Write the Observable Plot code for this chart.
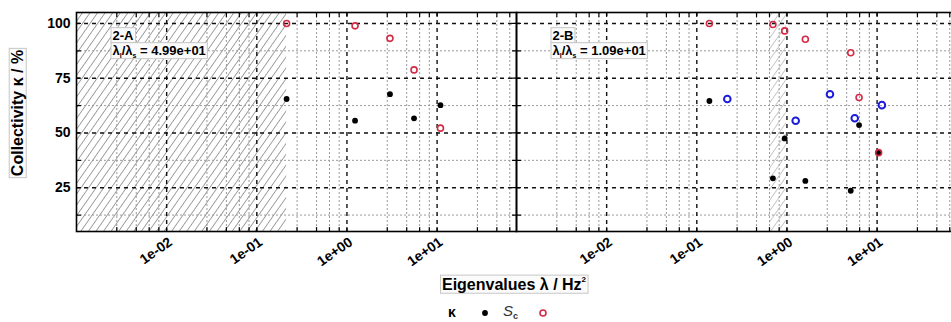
<!DOCTYPE html>
<html>
<head>
<meta charset="utf-8">
<script src="https://cdn.jsdelivr.net/npm/d3@7"></script>
<script src="https://cdn.jsdelivr.net/npm/@observablehq/plot@0.6"></script>
<style>
  html, body { margin: 0; padding: 0; overflow: hidden; background: white; }
  #wrap { position: relative; width: 951px; height: 322px; overflow: hidden; }
  #chart { width: 957px; height: 300px; }
  #chart svg { max-width: none !important; display: block; }
  #legend { position: absolute; top: 302px; left: 0; width: 951px; height: 22px;
    font-family: "Liberation Sans", Arial, sans-serif; }
  #legend span, #legend svg { position: absolute; }
</style>
</head>
<body>
<div id="wrap">
  <div id="chart"></div>
  <div id="legend"></div>
</div>
<script>
// ---- data ----
const panels = ["A", "B"];
const panelTags = ["2-A", "2-B"];
const ratioLabels = ["4.99e+01", "1.09e+01"];

// panel 2-A
const lambdaA = [0.214, 1.23, 3.0, 5.55, 10.9];
const kappaA  = [65.5, 55.6, 67.7, 56.7, 62.7];
const scA     = [100, 98.9, 93.2, 78.8, 52.2];

// panel 2-B
const lambdaB = [0.138, 0.699, 0.943, 1.6, 5.1, 6.31, 10.4];
const kappaB  = [64.6, 29.3, 47.5, 28.1, 23.6, 53.6, 41.0];
const scB     = [100, 99.5, 96.6, 92.8, 86.6, 66.2, 41.0];

// reference collectivity shown in blue on panel 2-B
const lambdaRef = [0.218, 1.25, 3.0, 5.65, 11.3];
const kappaRef  = [65.5, 55.6, 67.7, 56.7, 62.7];

// hatched (excluded) eigenvalue ranges
const hatchPanel = ["A", "B"];
const hatchFrom  = [0.001, 0.645];
const hatchTo    = [0.214, 0.985];

// ticks / grid
const yMajor = [25, 50, 75, 100];
const yMinor = [12.5, 37.5, 62.5, 87.5];
const xDecades = [0.01, 0.1, 1, 10];
const xTickLabels = ["1e-02", "1e-01", "1e+00", "1e+01"];
const xMinor = [0.0028, 0.0046, 0.0064, 0.0082,
                0.028, 0.046, 0.064, 0.082,
                0.28, 0.46, 0.64, 0.82,
                2.8, 4.6, 6.4, 8.2,
                28, 46, 64];

// ---- build tables ----
const rowsA = lambdaA.map((l, i) => ({panel: "A", lambda: l, kappa: kappaA[i], sc: scA[i]}));
const rowsB = lambdaB.map((l, i) => ({panel: "B", lambda: l, kappa: kappaB[i], sc: scB[i]}));
const rows = rowsA.concat(rowsB);
const refRows = lambdaRef.map((l, i) => ({panel: "B", lambda: l, kappa: kappaRef[i]}));
const hatchRows = hatchPanel.map((p, i) => ({panel: p, x1: hatchFrom[i], x2: hatchTo[i]}));
const tagRows = panels.map((p, i) => ({panel: p, text: panelTags[i]}));
const ratioRows = panels.map((p, i) => ({panel: p, text: "λl/λs = " + ratioLabels[i]}));

const tickShape = { draw(context, l) { context.moveTo(0, 0); context.lineTo(0, -l); } };

const W = 957, H = 300, plotBottom = 231;
const chart = Plot.plot({
  width: W, height: H,
  marginLeft: 76, marginRight: 1, marginTop: 12, marginBottom: H - plotBottom,
  style: {fontFamily: "'Liberation Sans', Arial, sans-serif", fontWeight: "bold", color: "black", background: "white", overflow: "visible", maxWidth: "none"},
  fx: {domain: panels, padding: 0, axis: null, label: null},
  x: {type: "log", domain: [0.001, 76], label: null},
  y: {domain: [5, 105], label: null},
  marks: [
    Plot.rect(hatchRows.filter(d => d.panel === "A"), {fx: "panel", x1: "x1", x2: "x2", fill: "url(#hatchA)"}),
    Plot.rect(hatchRows.filter(d => d.panel === "B"), {fx: "panel", x1: "x1", x2: "x2", fill: "url(#hatchB)"}),
    Plot.ruleY(yMinor, {stroke: "#9a9a9a", strokeDasharray: "2,2", strokeWidth: 1}),
    Plot.ruleX(xMinor, {stroke: "#9a9a9a", strokeDasharray: "2,2", strokeWidth: 1}),
    Plot.ruleY(yMajor, {stroke: "#111", strokeDasharray: "4,4", strokeWidth: 1.4}),
    Plot.ruleX(xDecades, {stroke: "#111", strokeDasharray: "4,4", strokeWidth: 1.4}),
    Plot.vector(xMinor.concat(xDecades), {x: d => d, frameAnchor: "bottom", rotate: 0, length: 4, anchor: "start", shape: tickShape, stroke: "black", strokeWidth: 1.2}),
    Plot.vector(xMinor.concat(xDecades), {x: d => d, frameAnchor: "top", rotate: 180, length: 4, anchor: "start", shape: tickShape, stroke: "black", strokeWidth: 1.2}),
    Plot.vector(yMinor.concat(yMajor), {y: d => d, frameAnchor: "left", rotate: 90, length: 4, anchor: "start", shape: tickShape, stroke: "black", strokeWidth: 1.2}),
    Plot.vector(yMinor.concat(yMajor), {y: d => d, frameAnchor: "right", rotate: -90, length: 4, anchor: "start", shape: tickShape, stroke: "black", strokeWidth: 1.2}),
    Plot.frame({stroke: "black", strokeWidth: 1.6}),
    Plot.axisX(xDecades, {anchor: "bottom", tickSize: 0, tickPadding: 9, tickRotate: -35, fontSize: 14, dx: 4,
      tickFormat: d => xTickLabels[xDecades.indexOf(d)]}),
    Plot.axisY(yMajor, {anchor: "left", tickSize: 0, tickPadding: 6, fontSize: 14}),
    Plot.dot(rows, {fx: "panel", x: "lambda", y: "kappa", r: 2.9, fill: "black"}),
    Plot.dot(refRows, {fx: "panel", x: "lambda", y: "kappa", r: 3.3, stroke: "#1c1cdc", strokeWidth: 2, fill: "none"}),
    Plot.dot(rows, {fx: "panel", x: "lambda", y: "sc", r: 3, stroke: "#d42a44", strokeWidth: 1.6, fill: "none"}),
    Plot.text(tagRows, {fx: "panel", text: "text", frameAnchor: "top-left", dx: 36, dy: 23, textAnchor: "start", lineAnchor: "middle", fontSize: 13}),
    Plot.text(ratioRows, {fx: "panel", text: "text", frameAnchor: "top-left", dx: 36, dy: 38, textAnchor: "start", lineAnchor: "middle", fontSize: 13})
  ]
});

document.getElementById("chart").append(chart);
const svg = d3.select(chart);

// hatch patterns
const defs = svg.insert("defs", ":first-child");
[["hatchA", "#333333"], ["hatchB", "#8a8a8a"]].forEach(([id, col]) => {
  const p = defs.append("pattern").attr("id", id).attr("patternUnits", "userSpaceOnUse")
    .attr("width", 6.2).attr("height", 6.2).attr("patternTransform", "rotate(35)");
  p.append("line").attr("x1", 0).attr("y1", 0).attr("x2", 0).attr("y2", 6.2)
    .attr("stroke", col).attr("stroke-width", 0.9);
});

function boxIt(node) {
  const b = node.getBBox();
  const r = document.createElementNS("http://www.w3.org/2000/svg", "rect");
  r.setAttribute("x", b.x - 1.5);
  r.setAttribute("y", b.y);
  r.setAttribute("width", b.width + 3);
  r.setAttribute("height", b.height);
  r.setAttribute("fill", "#fbfbfb");
  r.setAttribute("stroke", "#c6c6c6");
  r.setAttribute("stroke-width", 1);
  if (node.getAttribute("transform")) r.setAttribute("transform", node.getAttribute("transform"));
  node.parentNode.insertBefore(r, node);
}

// subscripts + boxes for panel annotations
svg.selectAll("text").each(function () {
  const t = this.textContent;
  if (t.startsWith("λl/λs")) {
    const val = t.split("= ")[1];
    const sel = d3.select(this);
    sel.text(null);
    sel.append("tspan").text("λ");
    sel.append("tspan").attr("font-size", 7).attr("dy", 3).text("l");
    sel.append("tspan").attr("dy", -3).text("/λ");
    sel.append("tspan").attr("font-size", 7).attr("dy", 3).text("s");
    sel.append("tspan").attr("dy", -3).text(" = " + val);
    boxIt(this);
  } else if (t.startsWith("2-")) {
    boxIt(this);
  }
});

// axis titles
const xt = svg.append("text").attr("x", 514).attr("y", 286).attr("text-anchor", "middle")
  .attr("dominant-baseline", "middle").attr("font-size", 16).attr("font-weight", "bold");
xt.append("tspan").text("Eigenvalues λ / Hz");
xt.append("tspan").attr("font-size", 8).attr("dy", -6).text("2");
boxIt(xt.node());

const yt = svg.append("text").attr("transform", "translate(19,113) rotate(-90)").attr("text-anchor", "middle")
  .attr("dominant-baseline", "middle").attr("font-size", 16).attr("font-weight", "bold")
  .text("Collectivity κ / %");
boxIt(yt.node());

// legend
const legend = d3.select("#legend");
legend.append("span").style("left", "448px").style("top", "2px").style("font-weight", "bold").style("font-size", "14px").text("κ");
const l1 = legend.append("svg").attr("width", 10).attr("height", 10).style("left", "480px").style("top", "6px");
l1.append("circle").attr("cx", 5).attr("cy", 5).attr("r", 2.9).attr("fill", "black");
const sc = legend.append("span").style("left", "503px").style("top", "0px").style("font-size", "15px").style("color", "#333");
sc.append("i").text("S");
sc.append("span").style("position", "relative").style("top", "3px").style("font-size", "9px").style("font-weight", "bold").text("c");
const l2 = legend.append("svg").attr("width", 10).attr("height", 10).style("left", "538px").style("top", "6px");
l2.append("circle").attr("cx", 5).attr("cy", 5).attr("r", 3).attr("fill", "none").attr("stroke", "#d42a44").attr("stroke-width", 1.6);
</script>
</body>
</html>
